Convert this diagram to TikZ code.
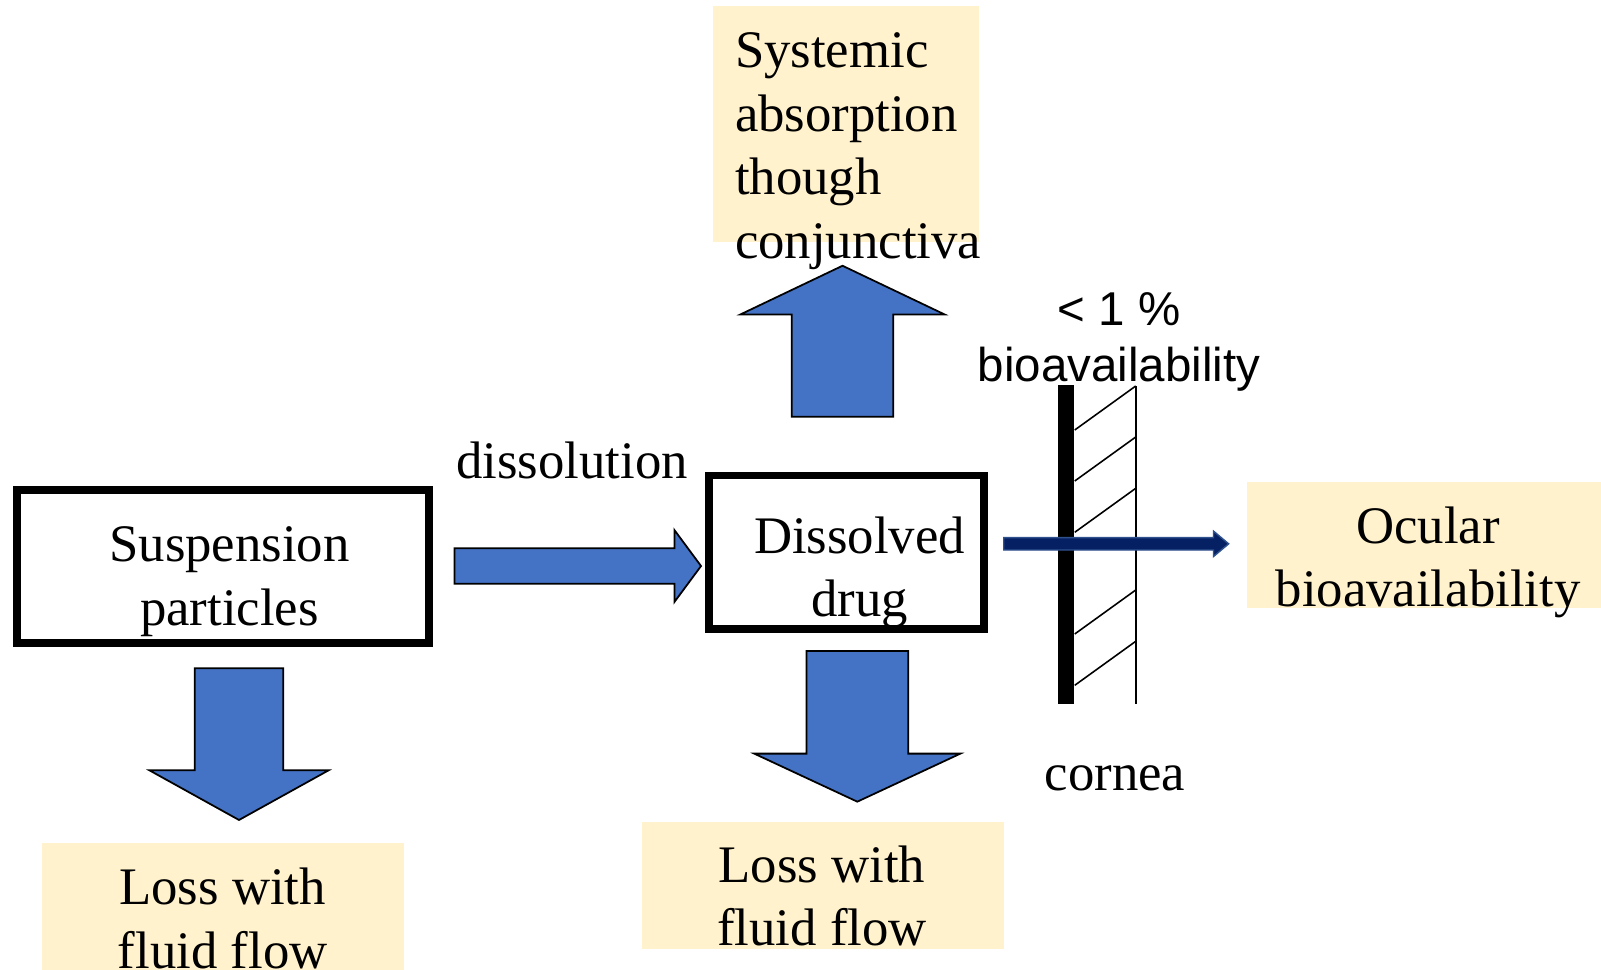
\documentclass[tikz,border=0pt]{standalone}
\usepackage{fontspec}
\setmainfont{Liberation Serif}
\setsansfont{Liberation Sans}
\usetikzlibrary{shapes.arrows}

\definecolor{arrowblue}{HTML}{4472C4}
\definecolor{noteyellow}{HTML}{FFF2CC}
\definecolor{navyfill}{HTML}{062163}
\definecolor{navyedge}{HTML}{2F528F}

\begin{document}
\begin{tikzpicture}[x=0.01cm, y=-0.01cm,
    drugbox/.style ={draw, line width=0.078cm, inner sep=0pt},
    notebox/.style ={fill=noteyellow, inner sep=0pt},
    txt/.style ={font=\fontsize{15}{18.1}\selectfont, inner sep=0pt, align=center, anchor=base},
    fatarrow/.style ={single arrow, draw=black, fill=arrowblue, line width=0.5pt,
        inner xsep=0pt, single arrow head indent=0pt, anchor=tail}]
   \useasboundingbox (0,0) rectangle (1601,969);
   % coloured note boxes
   \node[notebox, minimum width=2.66cm, minimum height=2.357cm] (sysbg) at (846.3,123.85) {};
   \node[notebox, minimum width=3.618cm, minimum height=1.467cm] (loss1bg) at (223.1,916.65) {};
   \node[notebox, minimum width=3.62cm, minimum height=1.27cm] (loss2bg) at (823,885.5) {};
   \node[notebox, minimum width=3.626cm, minimum height=1.263cm] (ocbg) at (1428.7,545.15) {};
   % framed boxes
   \node[drugbox, minimum width=4.116cm, minimum height=1.536cm] (susp) at (222.8,566.5) {};
   \node[drugbox, minimum width=2.752cm, minimum height=1.533cm] (diss) at (846.4,552.2) {};
   % texts (placed at the baseline of their last line)
   \node[txt, align=left, anchor=base west] (sysT) at (734.3,258.3) {Systemic\\absorption\\though\\conjunctiva};
   \node[txt] (suspT) at (229.5,625) {Suspension\\particles};
   \node[txt] (dissT) at (859.5,616.7) {Dissolved\\drug};
   \node[txt] (dissolT) at (572,478) {dissolution};
   \node[txt] (loss1T) at (222.7,968) {Loss with\\fluid flow};
   \node[txt] (loss2T) at (822,945.7) {Loss with\\fluid flow};
   \node[txt] (ocT) at (1428,606.7) {Ocular\\bioavailability};
   \node[txt, font=\sffamily\fontsize{13.5}{16.1}\selectfont] (pctT) at (1119,381.7) {< 1 \%\\bioavailability};
   \node[txt] (corneaT) at (1115,790) {cornea};
   % block arrows
   \node[fatarrow, minimum height=2.464cm, inner ysep=0.1685cm, single arrow head extend=0.1815cm,
         single arrow tip angle=107] (dissolA) at (453.6,566) {};
   \node[fatarrow, rotate=-90, minimum height=1.517cm, inner ysep=0.434cm, single arrow head extend=0.453cm,
         single arrow tip angle=122] (loss1A) at (239,667.3) {};
   \node[fatarrow, rotate=-90, minimum height=1.507cm, inner ysep=0.50cm, single arrow head extend=0.5215cm,
         single arrow tip angle=130] (loss2A) at (857.3,650) {};
   \node[fatarrow, rotate=90, minimum height=1.51cm, inner ysep=0.498cm, single arrow head extend=0.5135cm,
         single arrow tip angle=129] (sysA) at (842.5,417.7) {};
   % cornea
   \node[fill=black, inner sep=0pt, minimum width=0.16cm, minimum height=3.193cm] (bar) at (1066,544.65) {};
   \coordinate (innerTop) at (1135.7,386);
   \coordinate (innerBot) at (1135.7,704.3);
   \draw[line width=0.45pt] (innerTop) -- (innerBot);
   \foreach \y in {430,481,532.3,634,685.3}
      \draw[line width=0.45pt] (bar.east |- 0,\y) -- (1135.7,\y-44);
   \node[single arrow, draw=navyedge, fill=navyfill, line width=0.4pt, inner xsep=0pt, inner ysep=0.055cm,
         single arrow head indent=0pt, anchor=tail, minimum height=2.248cm,
         single arrow head extend=0.065cm, single arrow tip angle=80] (ocA) at (1003,543.8) {};
 \end{tikzpicture}
\end{document}
